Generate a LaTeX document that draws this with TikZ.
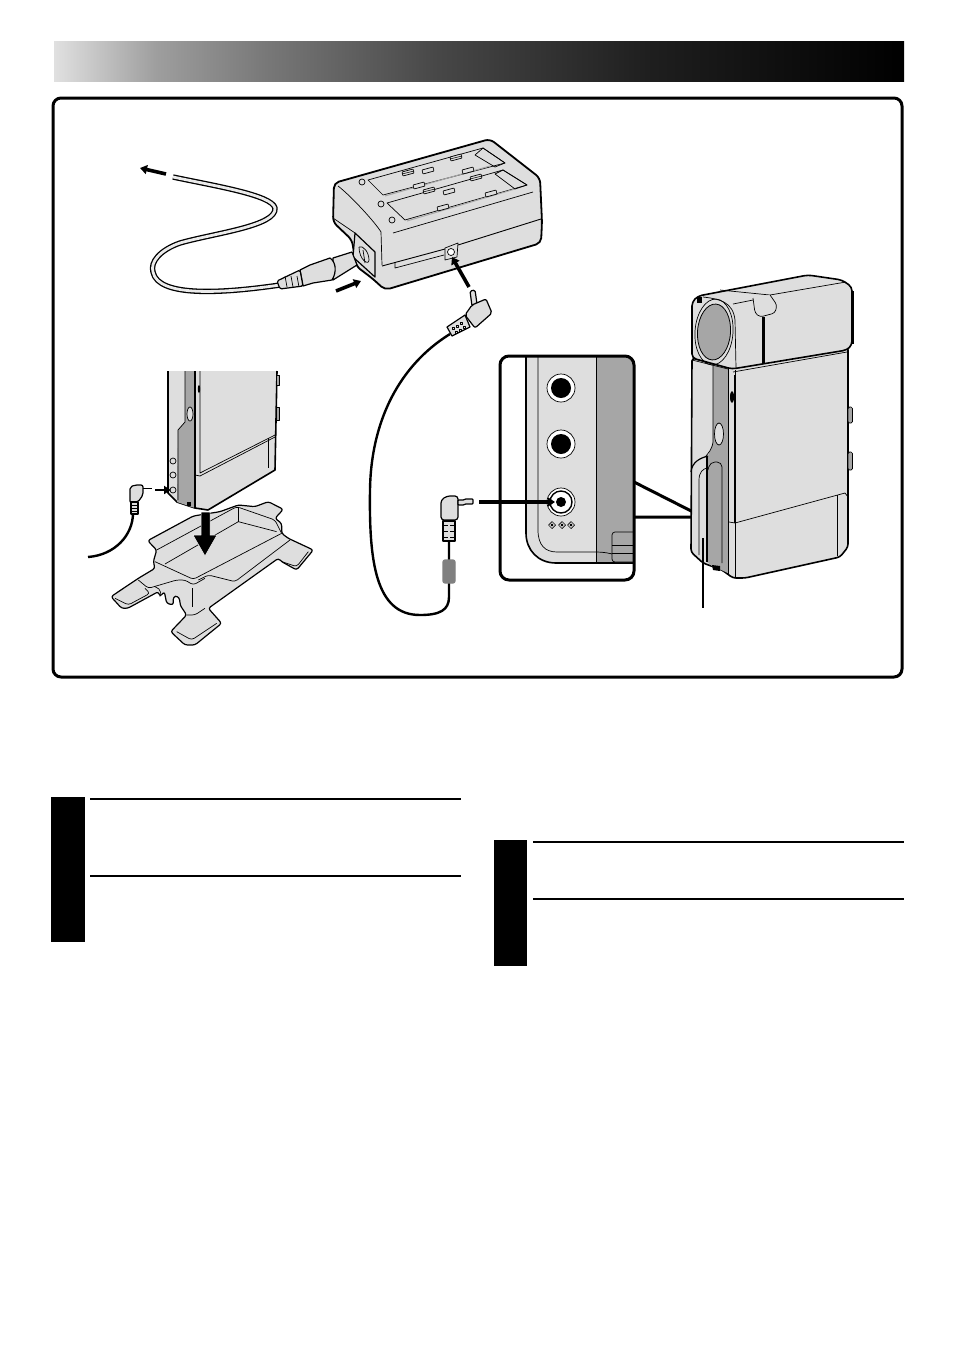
\documentclass[tikz,border=0pt]{standalone}
\usetikzlibrary{arrows.meta}
\definecolor{clight}{HTML}{DEDEDE}
\definecolor{cmid}{HTML}{A6A6A6}
\definecolor{cdark}{HTML}{808080}
\pgfdeclarehorizontalshading{bannerfade}{100bp}{
  rgb(0bp)=(.88,.88,.88); rgb(25bp)=(.88,.88,.88); rgb(31bp)=(.62,.62,.62);
  rgb(37.5bp)=(.47,.47,.47); rgb(47.5bp)=(.28,.28,.28); rgb(60bp)=(.12,.12,.12);
  rgb(75bp)=(0,0,0); rgb(100bp)=(0,0,0)}
\tikzset{
  every picture/.style={line width=1.2pt, line join=round},
  shell/.style={draw=black, fill=clight},
  panel/.style={draw=black, fill=cmid},
  seam/.style={draw=black, line width=0.7pt},
  wire/.style={draw=black, line width=2.4pt},
  cordout/.style={draw=black, line width=5.4pt},
  cordin/.style={draw=clight!60, line width=2.8pt},
  push/.style={-{Triangle[length=7pt, width=9pt]}, draw=black, line width=3.6pt},
  leader/.style={draw=black, line width=3pt},
  rule/.style={draw=black, line width=2pt},
  traycap/.style={seam, fill=clight, rounded corners=0.5pt},
}
\begin{document}
\begin{tikzpicture}[x=1pt, y=-1pt]
  \useasboundingbox (0,0) rectangle (954,1355);
  % top banner and outer frame
  \shade[shading=bannerfade] (54,41) rectangle (904,81);
  \draw[line width=3pt, rounded corners=8pt] (53,98) rectangle (902,677);
  % text blocks below the frame
  \fill (51,797) rectangle (85,942);
  \fill (494,840) rectangle (527,966);
  \foreach \x/\y in {90/799, 90/876, 533/842, 533/899}
    \draw[rule] (\x,\y) -- ++(371,0);

  % mains cord
  \coordinate (cordend) at (173,177);
  \coordinate (cordstart) at (280,285);
  \foreach \s in {cordout, cordin}
    \draw[\s] (cordend) .. controls (215,186) and (272,195) .. (275,208)
      .. controls (277,226) and (215,233) .. (180,243)
      .. controls (160,250) and (150,262) .. (153,272)
      .. controls (158,298) and (225,293) .. (cordstart);
  \draw[push] (166,174) -- (140,168);
  % charger body
  \draw[shell, line width=1.8pt, rounded corners=5pt] (334,183) -- (490,139) -- (540,178) -- (542,222) -- (541,243)
    -- (385,290) -- (373,279) -- (356,266) -- (352,240) -- (333,222) -- cycle;
  \draw[seam] (338,186) .. controls (350,195) and (375,222) .. (381,232) -- (382,265);
  \draw[seam] (393,233) -- (533,192);
  \draw[seam] (333,218) -- (355,233);
  \draw[line width=0.9pt] (382,266) -- (445,249) (458,245) -- (541,219);
  \draw[seam] (395,263) -- (395,268) -- (444,255);
  % battery trays
  \draw[seam] (368,180) -- (483,148) -- (505,163) -- (383,195) -- cycle;
  \draw[seam] (387,203) -- (503,170) -- (527,185) -- (405,220) -- cycle;
  \draw[line width=1pt, draw=cmid] (385,196) -- (490,166) (407,221) -- (515,189);
  \draw[seam] (475,155) -- (483,148) -- (505,163) -- (495,167) -- cycle;
  \draw[seam] (495,174) -- (503,170) -- (527,185) -- (515,189) -- cycle;
  \foreach \x/\y in {402/172, 422/170, 450/157, 462/170, 413/185, 423/190, 443/191, 470/177, 485/193, 437/207}
    \draw[traycap] (\x,\y) -- ++(11,-3) -- ++(1,4) -- ++(-11,3) -- cycle;
  \foreach \x/\y in {402/174, 450/159, 423/192, 470/179}
    \draw[seam, line width=0.5pt] (\x,\y) -- ++(12,-3);
  \foreach \x/\y in {362/182, 381/204, 392/220}
    \draw[seam] (\x,\y) circle (3);
  % mains socket and plug
  \draw[shell] (355,233) -- (375,252) -- (375,277) -- (353,257) -- cycle;
  \draw[seam] (359,247) .. controls (363,245) and (369,252) .. (369,260)
    .. controls (369,266) and (359,260) .. (359,247);
  \draw[seam] (363,250) -- (365,263);
  \draw[shell] (333,258) -- (352,252) -- (357,265) -- (333,280) -- cycle;
  \draw[shell] (300,270) -- (310,265) -- (330,258) .. controls (336,262) and (337,272) .. (332,280)
    -- (313,283) -- (303,286) -- cycle;
  \draw[shell, rounded corners=1.5pt] (277,281) -- (300,270) -- (303,286) -- (280,289) -- cycle;
  \foreach \x in {285,291,297}
    \draw[seam] (\x,276) -- (\x+2,287);
  \draw[push] (336,291) -- (361,281);
  \draw[seam, fill=clight] (445,248) -- (458,243) -- (457,257) -- (445,260) -- cycle;
  \draw[seam, fill=white] (451,252) circle (3.5);
  \draw[push] (469,287) -- (452,257);

  % upper cable plug
  \draw[shell, rounded corners=1.5pt] (470,291) -- (475,290) -- (477,304) -- (472,306) -- cycle;
  \draw[shell, rounded corners=2pt] (465,315) -- (472,305) -- (486,299) -- (492,313) -- (475,328) -- cycle;
  \draw[shell] (447,327) -- (465,315) -- (470,327) -- (452,336) -- cycle;
  \foreach \x/\y in {452/327, 456/325, 460/322, 455/331, 459/329, 463/326}
    \draw[seam, line width=0.5pt] (\x,\y) rectangle ++(2,2);
  % cable between charger and camcorder
  \coordinate (plugtop) at (450,334);
  \coordinate (plugbottom) at (449,541);
  \draw[wire] (plugtop) .. controls (400,365) and (371,420) .. (370,490)
    .. controls (369,560) and (375,615) .. (420,615)
    .. controls (440,615) and (449,610) .. (449,597) -- (plugbottom);
  \draw[draw=cdark, fill=cdark, rounded corners=2pt] (443,560) rectangle (455,583);
  \draw[shell, rounded corners=3pt] (441,520) -- (441,500) -- (447,496) -- (458,496) -- (458,520) -- cycle;
  \draw[shell] (443,521) rectangle (455,541);
  \foreach \y in {525,531,537}
    \draw[seam] (444,\y) -- (448,\y) (450,\y) -- (454,\y);
  \draw[shell, rounded corners=0.8pt] (458,500) -- (464,500) -- (465,499) -- (473,499) -- (473,504) -- (465,504) -- (464,505) -- (458,505) -- cycle;

  % jack close-up
  \draw[leader] (634,482) -- (703,517) (634,517) -- (703,517);
  \fill[white] (500,356) rectangle (634,580);
  \path[fill=clight] (526,356) -- (596,356) -- (596,563) -- (556,563) .. controls (538,563) and (526,550) .. (526,533) -- cycle;
  \path[fill=cmid] (596,356) -- (630,356) -- (634,362) -- (634,563) -- (596,563) -- cycle;
  \draw[line width=1.6pt] (526,356) -- (526,533) .. controls (526,550) and (538,563) .. (556,563) -- (634,563);
  \draw[seam] (538,356) -- (538,530) .. controls (538,545) and (545,552) .. (557,552) -- (596,552)
    .. controls (610,552) and (620,556) .. (634,562);
  \draw[seam] (596,356) -- (596,563);
  \draw[seam, rounded corners=3pt, fill=cmid] (633,532) -- (612,532) -- (612,562) -- (633,562);
  \draw[seam] (612,545) -- (633,545) (612,553) -- (633,553);
  \draw[line width=3pt, rounded corners=9pt] (500,356) rectangle (634,580);
  \foreach \y in {388,444} {
    \draw[seam, fill=white] (561,\y) circle (14);
    \fill (561,\y) circle (10);
  }
  \draw[seam, fill=white] (561,502) circle (14);
  \draw[line width=1.4pt] (561,502) circle (11);
  \fill (561,502) circle (5);
  \foreach \x in {552,562,571} {
    \draw[seam, fill=white] (\x,521.5) -- (\x+3.5,525) -- (\x,528.5) -- (\x-3.5,525) -- cycle;
    \fill (\x,525) circle (1.6);
  }
  \draw[push] (479,502) -- (555,502);

  % camcorder on the right
  \draw[shell, line width=1.6pt, rounded corners=3pt] (692,358) -- (691,552) -- (703,563) -- (722,570) -- (733,578) -- (745,578)
    -- (840,557) -- (848,547) -- (848,347) -- (728,367) -- cycle;
  \path[fill=cmid] (713,365) -- (728,369) -- (728,573) -- (712,566) -- (707,562) -- (708,456) -- (713,442) -- cycle;
  \draw[seam] (713,362) -- (713,442) .. controls (712,450) and (708,453) .. (706,456);
  \draw[line width=0.9pt] (728,368) -- (728,574);
  \draw[seam] (735,370) -- (735,577);
  \draw[seam] (729,522) -- (735,523) -- (845,493) -- (848,497);
  \draw[line width=1.2pt] (735,523) -- (735,375);
  \draw[seam] (837,495) -- (837,556);
  % grip with the cable jacks
  \draw[line width=1.2pt] (708,456) .. controls (700,458) and (692,462) .. (691,472);
  \draw[seam] (699,555) -- (699,480) .. controls (699,472) and (703,469) .. (707,468);
  \draw[seam, rounded corners=5pt] (722,563) -- (722,462) -- (710,462) -- (708,470);
  \draw[line width=1.6pt] (707,456) -- (707,562);
  \fill (712,565) -- (720,566) -- (720,571) -- (713,570) -- cycle;
  \draw[seam, fill=clight] (719,434) ellipse [x radius=4.5, y radius=11];
  \fill (732,397) ellipse [x radius=2, y radius=6];
  \foreach \y/\h in {407/16, 452/18}
    \draw[seam, fill=cmid, rounded corners=1.5pt] (848,\y) rectangle ++(4.5,\h);
  % head with lens and viewfinder
  \draw[shell, line width=1.6pt, rounded corners=4pt] (692,302) -- (698,296) -- (808,275) -- (842,280) -- (852,287) -- (852,345)
    -- (847,350) -- (732,369) -- (692,358) -- cycle;
  \draw[line width=3pt] (852,291) -- (852,344);
  \draw[seam] (733,372) -- (847,352);
  \draw[seam] (720,290) -- (770,295) -- (846,282);
  \draw[seam] (692,360) -- (728,369);
  \draw[seam] (703,297) .. controls (720,299) and (733,302) .. (735,320) -- (736,368);
  \draw[seam] (733,304) -- (753,300);
  \draw[seam] (714,332) ellipse [x radius=19, y radius=33, rotate=-4];
  \draw[panel, line width=0.8pt] (714,332) ellipse [x radius=16.5, y radius=28, rotate=-4];
  \draw[seam, fill=clight, rounded corners=3pt] (753,298) -- (755,313) -- (760,317) -- (775,313) -- (777,305) -- (770,295);
  \draw[line width=3pt] (763,317) -- (763,364);
  \fill (697,297) rectangle (702,303);
  % pointer below the camcorder
  \coordinate (pointtop) at (703,538);
  \coordinate (pointbottom) at (703,608);
  \draw[line width=1.4pt] (pointtop) -- (pointbottom);

  % docking base, in its own grid
  \begin{scope}[shift={(105,490)}, x=0.3333pt, y=-0.3333pt]
    \draw[shell, rounded corners=2.5pt] (128,152) -- (265,78) -- (345,65) -- (400,45) -- (450,50) -- (490,35) -- (535,58)
      -- (510,85) -- (530,100) -- (530,130) -- (550,145) -- (625,180) -- (575,240) -- (530,215) -- (520,205)
      -- (310,355) -- (350,400) -- (270,465) -- (240,465) -- (197,425) -- (245,375) -- (225,345) -- (225,330)
      -- (218,318) -- (205,320) -- (205,345) -- (185,340) -- (178,305) -- (165,320) -- (160,305) -- (68,355)
      -- (50,355) -- (18,320) -- (100,265) -- (150,235) -- (145,215) -- (155,180) -- cycle;
    \draw[seam, rounded corners=3pt] (150,215) -- (265,268) -- (530,130);
    \draw[seam, rounded corners=3pt] (155,180) -- (395,50) -- (510,90) -- (530,130);
    \draw[seam] (180,222) -- (400,95) -- (515,125);
    \draw[seam] (400,52) -- (400,95);
    \draw[seam, rounded corners=3pt] (100,270) -- (130,295) -- (215,270) -- (240,270) -- (265,285) -- (300,265);
    \draw[seam, rounded corners=3pt] (280,270) -- (310,255) -- (390,275) -- (555,150);
    \draw[seam, rounded corners=3pt] (30,325) -- (70,345) -- (135,310) -- (120,295);
    \draw[seam, rounded corners=3pt] (215,425) -- (260,450) -- (335,400);
    \draw[seam, rounded corners=3pt] (245,375) -- (270,375) -- (300,355);
    \draw[seam, rounded corners=3pt] (530,215) -- (575,230) -- (610,185);
    \draw[seam] (262,295) -- (262,350);
    \draw[seam, rounded corners=2pt] (150,290) -- (167,300) -- (165,320);
  \end{scope}
  % lower camcorder, cut off at the top
  \path[fill=clight] (168,371) -- (168,493) -- (177,502) -- (195,508) -- (208,510) -- (275,470) -- (277,371) -- cycle;
  \draw[line width=1.6pt] (168,371) -- (168,493) -- (177,502) -- (195,508) -- (208,510) -- (275,470) -- (277,371);
  \path[fill=cmid] (185,371) -- (195,371) -- (195,508) -- (177,502) -- (178,430) -- (185,422) -- cycle;
  \draw[seam] (185,371) -- (185,422) -- (178,430) -- (178,500);
  \draw[line width=1.4pt] (195,371) -- (195,508);
  \draw[seam] (200,371) -- (200,473) -- (275,435);
  \draw[seam] (195,475) -- (200,476) -- (275,437);
  \draw[seam] (268,438) -- (268,468);
  \draw[seam, fill=clight] (190,414) ellipse [x radius=3, y radius=7];
  \fill (199,389) ellipse [x radius=1.2, y radius=4];
  \fill (187,502) rectangle (191,506);
  \foreach \y/\h in {375/10, 407/13}
    \draw[seam, fill=cmid] (276,\y) rectangle ++(3,\h);
  \foreach \y in {461,475,490}
    \draw[seam, fill=clight] (173,\y) circle (3);
  \draw[-{Triangle[length=7pt, width=8pt]}, draw=black, line width=2.6pt] (155,490) -- (171,490);
  % plug and cable on the left
  \draw[wire] (133,513) .. controls (133,535) and (115,555) .. (88,557);
  \draw[shell, rounded corners=2pt] (130,503) -- (130,487) -- (135,485) -- (143,485) -- (143,495) -- (138,502) -- cycle;
  \draw[shell] (131,502) rectangle (138,514);
  \foreach \y in {505,508,511}
    \draw[seam] (131,\y) -- (138,\y);
  \draw[line width=1pt] (143,488) -- (152,488);
  % drop arrow into the base
  \fill[draw=white, line width=0.5pt] (201,512) -- (210,512) -- (210,535) -- (217,535) -- (205,556) -- (193,535) -- (201,535) -- cycle;
\end{tikzpicture}
\end{document}
